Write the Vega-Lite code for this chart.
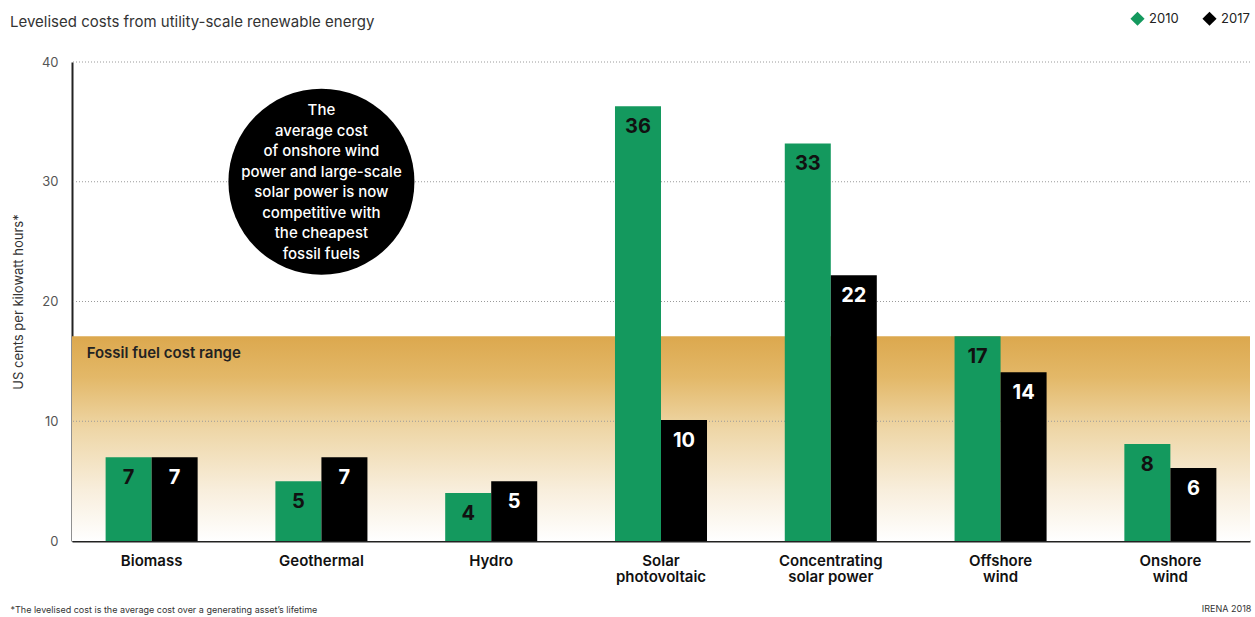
{
  "$schema": "https://vega.github.io/schema/vega-lite/v6.json",
  "width": 1178,
  "height": 479,
  "autosize": {"type": "none"},
  "padding": {"left": 72, "top": 62, "right": 5, "bottom": 76},
  "background": "white",
  "config": {"font": "Inter", "view": {"stroke": null}},
  "title": {
    "text": "Levelised costs from utility-scale renewable energy",
    "anchor": "start",
    "frame": "group",
    "dx": -62,
    "offset": 0,
    "dy": 19,
    "fontSize": 15,
    "fontWeight": "normal",
    "color": "#333333"
  },
  "datasets": {
    "costs": [
      {"tech": "Biomass", "year": "2010", "cost": 7.0},
      {"tech": "Biomass", "year": "2017", "cost": 7.0},
      {"tech": "Geothermal", "year": "2010", "cost": 5.0},
      {"tech": "Geothermal", "year": "2017", "cost": 7.0},
      {"tech": "Hydro", "year": "2010", "cost": 4.0},
      {"tech": "Hydro", "year": "2017", "cost": 5.0},
      {"tech": "Solar photovoltaic", "year": "2010", "cost": 36.3},
      {"tech": "Solar photovoltaic", "year": "2017", "cost": 10.1},
      {"tech": "Concentrating solar power", "year": "2010", "cost": 33.2},
      {"tech": "Concentrating solar power", "year": "2017", "cost": 22.2},
      {"tech": "Offshore wind", "year": "2010", "cost": 17.1},
      {"tech": "Offshore wind", "year": "2017", "cost": 14.1},
      {"tech": "Onshore wind", "year": "2010", "cost": 8.1},
      {"tech": "Onshore wind", "year": "2017", "cost": 6.1}
    ],
    "grid": [{"g": 10}, {"g": 20}, {"g": 30}, {"g": 40}]
  },
  "layer": [
    {
      "data": {"values": [{"lo": 0, "hi": 17.1}]},
      "mark": {
        "type": "rect",
        "fill": {
          "gradient": "linear",
          "x1": 0, "y1": 0, "x2": 0, "y2": 1,
          "stops": [
            {"offset": 0, "color": "#dca84e"},
            {"offset": 0.2, "color": "#e3b868"},
            {"offset": 0.45, "color": "#eed6a6"},
            {"offset": 0.75, "color": "#f8eedc"},
            {"offset": 1, "color": "#ffffff"}
          ]
        }
      },
      "encoding": {
        "y": {"field": "lo", "type": "quantitative", "scale": {"domain": [0, 40], "nice": false}},
        "y2": {"field": "hi"}
      }
    },
    {
      "data": {"name": "grid"},
      "mark": {"type": "rule", "stroke": "#9a9a9a", "strokeDash": [1, 2], "strokeWidth": 1},
      "encoding": {
        "y": {"field": "g", "type": "quantitative"}
      }
    },
    {
      "data": {"name": "costs"},
      "mark": {"type": "bar"},
      "encoding": {
        "x": {
          "field": "tech",
          "type": "nominal",
          "sort": null,
          "scale": {
            "domain": ["Biomass", "Geothermal", "Hydro", "Solar photovoltaic", "Concentrating solar power", "Offshore wind", "Onshore wind"],
            "paddingInner": 0.458,
            "paddingOuter": 0.198
          },
          "axis": {
            "title": "*The levelised cost is the average cost over a generating asset\u2019s lifetime",
            "titleAnchor": "start",
            "titleAlign": "left",
            "titleX": -62,
            "titleY": 68,
            "titleBaseline": "middle",
            "titleFontSize": 9,
            "titleFontWeight": "normal",
            "titleColor": "#333333",
            "labelAngle": 0,
            "labelFontSize": 15,
            "labelFontWeight": 600,
            "labelColor": "#111111",
            "labelPadding": 12,
            "labelLineHeight": 16,
            "labelExpr": "datum.value == 'Solar photovoltaic' ? ['Solar', 'photovoltaic'] : datum.value == 'Concentrating solar power' ? ['Concentrating', 'solar power'] : datum.value == 'Offshore wind' ? ['Offshore', 'wind'] : datum.value == 'Onshore wind' ? ['Onshore', 'wind'] : datum.value",
            "ticks": false,
            "domainColor": "#222222",
            "domainWidth": 2
          }
        },
        "xOffset": {"field": "year", "type": "nominal", "scale": {"paddingInner": 0, "paddingOuter": 0}},
        "y": {
          "field": "cost",
          "type": "quantitative",
          "scale": {"domain": [0, 40], "nice": false},
          "axis": {
            "title": "US cents per kilowatt hours*",
            "titleFontSize": 13,
            "titleFontWeight": "normal",
            "titleColor": "#333333",
            "titlePadding": 16,
            "values": [0, 10, 20, 30, 40],
            "labelFontSize": 13,
            "labelColor": "#555555",
            "labelPadding": 14,
            "ticks": false,
            "grid": false,
            "domainColor": "#222222",
            "domainWidth": 2
          }
        },
        "color": {
          "field": "year",
          "type": "nominal",
          "scale": {"domain": ["2010", "2017"], "range": ["#14995e", "#000000"]},
          "legend": {
            "title": null,
            "orient": "none",
            "direction": "horizontal",
            "legendX": 1058,
            "legendY": -51,
            "symbolType": "diamond",
            "symbolSize": 200,
            "symbolStrokeWidth": 0,
            "labelFontSize": 13,
            "labelColor": "#222222",
            "columnPadding": 23
          }
        }
      }
    },
    {
      "data": {"name": "costs"},
      "mark": {"type": "text", "fontSize": 20, "fontWeight": "bold", "baseline": "middle", "dy": 21},
      "encoding": {
        "x": {"field": "tech", "type": "nominal", "sort": null},
        "xOffset": {"field": "year", "type": "nominal"},
        "y": {"field": "cost", "type": "quantitative"},
        "text": {"field": "cost", "type": "quantitative", "format": ".0f"},
        "color": {"condition": {"test": "datum.year == '2010'", "value": "#111111"}, "value": "#ffffff"}
      }
    },
    {
      "data": {"values": [{"tech": "Geothermal", "v": 30}]},
      "mark": {"type": "point", "filled": true, "shape": "circle", "size": 34600, "color": "#000000", "opacity": 1},
      "encoding": {
        "x": {"field": "tech", "type": "nominal"},
        "y": {"field": "v", "type": "quantitative"}
      }
    },
    {
      "data": {"values": [{"tech": "Geothermal", "v": 30, "note": "The\naverage cost\nof onshore wind\npower and large-scale\nsolar power is now\ncompetitive with\nthe cheapest\nfossil fuels"}]},
      "mark": {"type": "text", "color": "#ffffff", "fontSize": 15, "fontWeight": 500, "lineHeight": 20.5, "lineBreak": "\n", "align": "center", "baseline": "middle", "dy": -71.75},
      "encoding": {
        "x": {"field": "tech", "type": "nominal"},
        "y": {"field": "v", "type": "quantitative"},
        "text": {"field": "note"}
      }
    },
    {
      "data": {"values": [{"tech": "Biomass", "v": 15.7, "note": "Fossil fuel cost range"}]},
      "mark": {"type": "text", "color": "#222222", "fontSize": 15, "fontWeight": 600, "align": "left", "baseline": "middle", "dx": -65},
      "encoding": {
        "x": {"field": "tech", "type": "nominal"},
        "y": {"field": "v", "type": "quantitative"},
        "text": {"field": "note"}
      }
    },
    {
      "data": {"values": [{"tech": "Onshore wind", "v": -5.7, "note": "IRENA 2018"}]},
      "mark": {"type": "text", "color": "#333333", "fontSize": 9, "align": "right", "baseline": "middle", "dx": 81},
      "encoding": {
        "x": {"field": "tech", "type": "nominal"},
        "y": {"field": "v", "type": "quantitative"},
        "text": {"field": "note"}
      }
    }
  ]
}
